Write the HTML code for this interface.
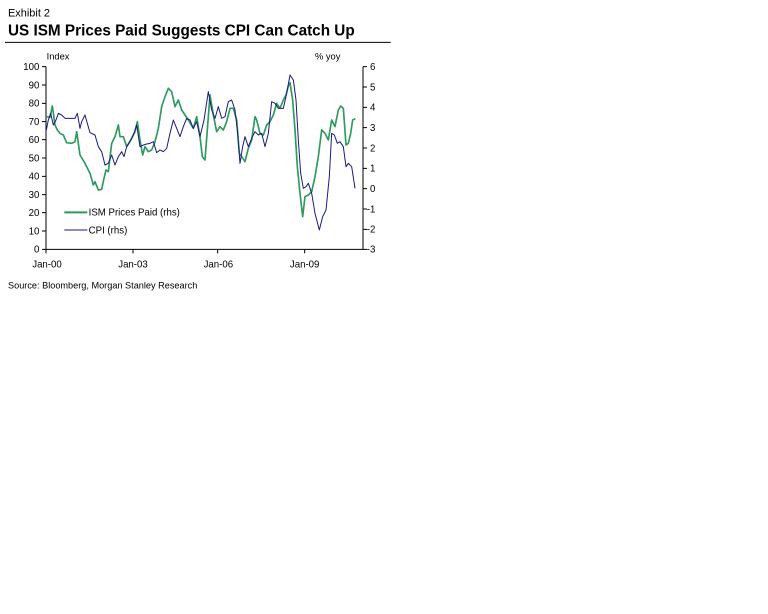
<!DOCTYPE html>
<html><head><meta charset="utf-8"><style>html,body{margin:0;padding:0;background:#fff;}svg{display:block}</style></head>
<body>
<svg width="768" height="614" viewBox="0 0 2304 1842" font-family="Liberation Sans, Arial, sans-serif">
<rect width="2304" height="1842" fill="#fff"/>
<text x="24" y="50" font-size="32" textLength="126" lengthAdjust="spacingAndGlyphs">Exhibit 2</text>
<text x="24" y="106" font-size="48" font-weight="bold" textLength="1040" lengthAdjust="spacingAndGlyphs">US ISM Prices Paid Suggests CPI Can Catch Up</text>
<line x1="15" y1="127" x2="1172" y2="127" stroke="#000" stroke-width="3"/>
<text x="140" y="178" font-size="28">Index</text>
<text x="945" y="178" font-size="28">% yoy</text>
<g stroke="#000" stroke-width="3" fill="none">
<line x1="138" y1="200" x2="138" y2="748"/>
<line x1="1089" y1="200" x2="1089" y2="748"/>
<line x1="138" y1="748" x2="1089" y2="748"/>
<path d="M126 200h12M126 255h12M126 310h12M126 365h12M126 419h12M126 474h12M126 529h12M126 584h12M126 638h12M126 693h12M126 748h12"/>
<path d="M1089 200h12M1089 261h12M1089 322h12M1089 383h12M1089 444h12M1089 505h12M1089 566h12M1089 627h12M1089 688h12M1089 748h12"/>
<path d="M138 748v12M399 748v12M653 748v12M914 748v12"/>
</g>
<g font-size="29" text-anchor="end">
<text x="118" y="210">100</text><text x="118" y="265">90</text><text x="118" y="320">80</text><text x="118" y="375">70</text><text x="118" y="429">60</text><text x="118" y="484">50</text><text x="118" y="539">40</text><text x="118" y="594">30</text><text x="118" y="648">20</text><text x="118" y="703">10</text><text x="118" y="758">0</text>
</g>
<g font-size="29" text-anchor="end">
<text x="1126" y="210">6</text><text x="1126" y="271">5</text><text x="1126" y="332">4</text><text x="1126" y="393">3</text><text x="1126" y="454">2</text><text x="1126" y="515">1</text><text x="1126" y="576">0</text><text x="1126" y="637">-1</text><text x="1126" y="698">-2</text><text x="1126" y="758">-3</text>
</g>
<g font-size="29" text-anchor="middle">
<text x="141" y="803">Jan-00</text><text x="399" y="803">Jan-03</text><text x="655" y="803">Jan-06</text><text x="914" y="803">Jan-09</text>
</g>
<polyline fill="none" stroke="#2e9a5e" stroke-width="5" stroke-linejoin="round" points="138,350 150,352 157,318 165,375 172,390 180,400 190,405 200,428 215,430 225,425 230,395 240,465 255,490 270,520 280,555 285,545 295,570 305,568 312,535 318,510 325,515 335,430 345,410 355,375 360,410 370,410 380,440 385,432 395,415 405,395 412,365 420,420 428,465 435,440 445,455 455,450 465,425 475,385 485,320 495,290 505,265 515,275 525,320 535,300 545,330 555,345 565,360 580,385 590,350 600,410 607,470 615,480 625,350 630,285 640,345 650,395 660,380 670,390 680,365 690,325 700,325 710,360 718,460 725,470 735,485 745,445 755,420 765,350 770,360 780,400 790,405 800,375 810,365 820,345 830,310 840,325 850,300 858,285 865,258 870,248 878,300 885,390 892,500 900,580 908,650 915,590 925,585 935,575 945,530 955,470 965,390 975,400 985,420 995,360 1005,380 1015,330 1022,318 1030,325 1038,435 1045,430 1052,400 1058,360 1066,356"/>
<polyline fill="none" stroke="#1a1a80" stroke-width="3" stroke-linejoin="round" points="138,395 145,360 152,340 160,375 168,360 175,340 185,345 195,355 210,355 225,355 232,340 240,385 245,365 255,345 262,370 270,398 285,405 295,440 305,455 315,495 325,490 335,465 345,495 355,470 365,455 372,470 380,440 390,425 400,405 410,375 420,440 430,435 440,432 450,430 460,425 470,458 480,450 490,455 500,445 510,400 520,360 530,385 540,410 550,380 560,355 570,360 580,385 590,365 600,410 612,360 625,275 635,330 645,355 655,320 665,355 675,350 685,305 695,300 705,330 712,390 720,490 728,440 735,410 745,440 755,415 765,395 775,405 785,400 795,440 805,400 815,305 825,310 835,325 850,325 860,280 870,225 880,240 888,300 895,420 902,520 910,565 918,560 925,550 935,580 945,640 958,690 968,650 978,630 988,530 995,400 1003,405 1012,430 1020,425 1030,440 1038,500 1045,490 1055,500 1065,565"/>
<line x1="193" y1="637" x2="262" y2="637" stroke="#2e9a5e" stroke-width="6"/>
<text x="266" y="647" font-size="29">ISM Prices Paid (rhs)</text>
<line x1="193" y1="690" x2="262" y2="690" stroke="#1a1a80" stroke-width="3"/>
<text x="266" y="700" font-size="29">CPI (rhs)</text>
<text x="24" y="866" font-size="27" textLength="568" lengthAdjust="spacingAndGlyphs">Source: Bloomberg, Morgan Stanley Research</text>
</svg>
</body></html>
